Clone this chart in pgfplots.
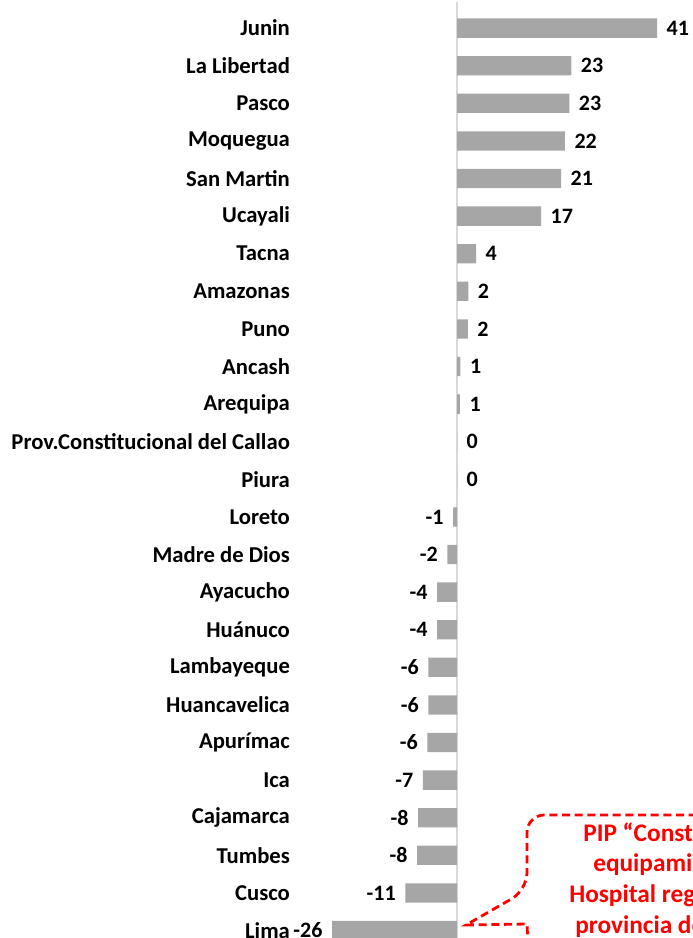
\documentclass[border=0pt]{standalone}
\usepackage{pgfplots}
\pgfplotsset{compat=1.18}
\usepackage{fontspec}
\setmainfont{Carlito}
\definecolor{bargray}{HTML}{A6A6A6}
\definecolor{zeroline}{HTML}{D9D9D9}
\definecolor{callred}{HTML}{FF0000}

\begin{document}
\begin{tikzpicture}[x=0.75pt,y=0.75pt]
\begin{axis}[
    at={(222.75pt,-8.5pt)}, anchor=south west,
    xbar, bar width=14.5pt,
    x=3.66pt, y=28.2pt,
    xmin=-32.8, xmax=48, ymin=-0.5, ymax=24.5,
    axis x line=none, axis y line=left,
    y axis line style={draw=none}, ytick style={draw=none},
    clip=false,
    ytick={0,...,24},
    yticklabels={Lima,Cusco,Tumbes,Cajamarca,Ica,Apurímac,Huancavelica,Lambayeque,Huánuco,Ayacucho,Madre de Dios,Loreto,Piura,Prov.Constitucional del Callao,Arequipa,Ancash,Puno,Amazonas,Tacna,Ucayali,San Martin,Moquegua,Pasco,La Libertad,Junin},
    yticklabel style={font=\bfseries\fontsize{17}{17}\selectfont, inner sep=3pt},
    point meta=explicit symbolic,
    visualization depends on={rawx \as \rawx},
    nodes near coords,
    every node near coord/.append style={font=\bfseries\fontsize{16.5}{17}\selectfont, inner sep=7pt},
    every node near coord/.append code={%
        \ifdim\rawx pt<0pt \pgfkeysalso{anchor=east}\else\pgfkeysalso{anchor=west}\fi},
]
\draw[zeroline, line width=1pt] (axis cs:0,-0.6) -- (axis cs:0,24.7);
\addplot[fill=bargray, draw=none] coordinates {
    (-25.6,0) [-26]
    (-10.6,1) [-11]
    (-8.2,2) [-8]
    (-8.0,3) [-8]
    (-7.0,4) [-7]
    (-6.1,5) [-6]
    (-5.9,6) [-6]
    (-5.9,7) [-6]
    (-4.1,8) [-4]
    (-4.1,9) [-4]
    (-2.0,10) [-2]
    (-0.8,11) [-1]
    (0,12) [0]
    (0,13) [0]
    (0.6,14) [1]
    (0.7,15) [1]
    (2.2,16) [2]
    (2.3,17) [2]
    (3.9,18) [4]
    (17.2,19) [17]
    (21.3,20) [21]
    (22.1,21) [22]
    (23.0,22) [23]
    (23.4,23) [23]
    (41.0,24) [41]
};
\end{axis}
% callout box, partly outside the picture
\draw[callred, line width=2.1pt, dash pattern=on 6pt off 3.5pt]
    (760,123) [rounded corners=13pt] -- (527,123) -- (527,48) [sharp corners] -- (466,13) -- (527,14) [rounded corners=8pt] -- (529,-30);
\begin{scope}[every node/.style={text=callred, font=\bfseries\fontsize{19}{19}\selectfont, inner sep=0pt, anchor=base west}]
\node at (583,96) {PIP “Construcción y};
\node at (593,66) {equipamiento del};
\node at (569,35) {Hospital regional de la};
\node at (575,4) {provincia de Huaura”};
\end{scope}
\pgfresetboundingbox
\path[use as bounding box] (0,0) rectangle (692,938);
\end{tikzpicture}
\end{document}
